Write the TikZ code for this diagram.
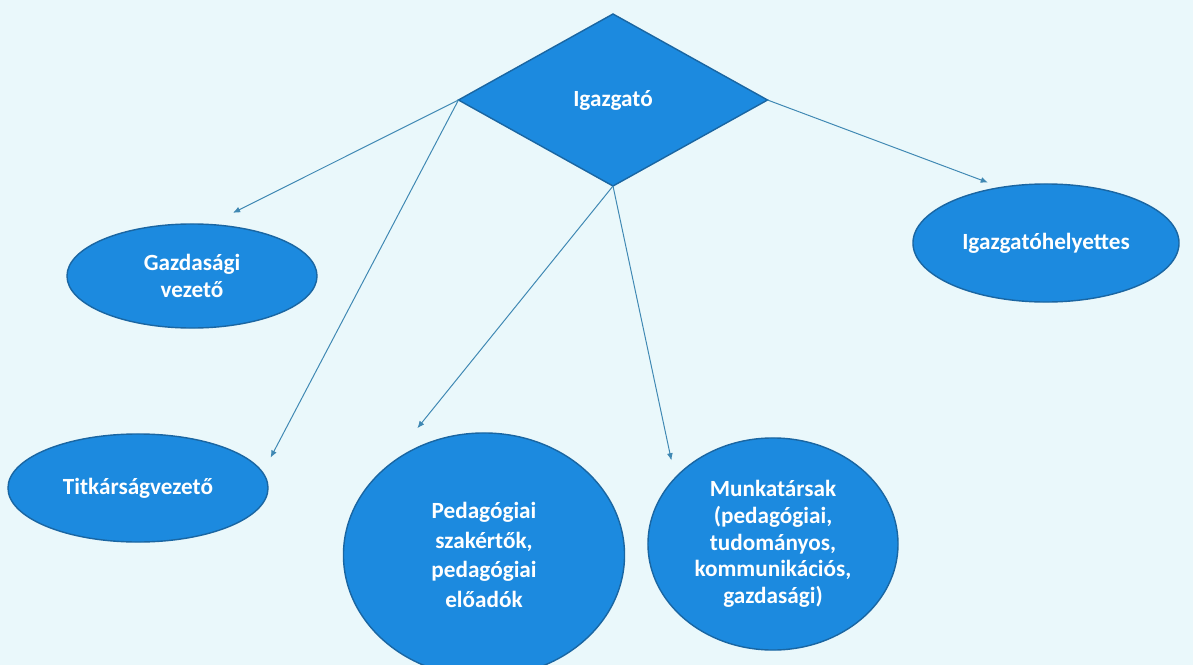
\documentclass[tikz,border=0pt]{standalone}
\usepackage{fontspec}
\setmainfont{Carlito}
\usetikzlibrary{arrows.meta}
\usetikzlibrary{shapes.geometric}
\definecolor{bgcyan}{HTML}{EAF8FB}
\definecolor{boxblue}{HTML}{1C8ADF}
\definecolor{edgeblue}{HTML}{1A66A2}
\definecolor{linkblue}{HTML}{3F88B3}

\begin{document}
\begin{tikzpicture}
	[x=0.025cm, y=-0.025cm,
	unit/.style={ellipse, fill=boxblue, draw=edgeblue, line width=1pt, inner sep=0pt, outer sep=0pt, text=white, align=center, font=\fontsize{16.5}{19}\selectfont\bfseries},
	link/.style={linkblue, line width=0.7pt, -{Latex[length=1.8mm,width=1.5mm]}}];

	%Canvas
	\clip (0,0) rectangle (1193,665);
	\fill[bgcyan] (0,0) rectangle (1193,665);

	%Head
	\node[unit, diamond, minimum width=7.725cm, minimum height=4.3cm] (igaz) at (613,100) {Igazgató};

	%Units
	\node[unit, minimum width=6.25cm, minimum height=2.6cm] (gazd) at (192,276) {Gazdasági\\vezető};
	\node[unit, minimum width=6.5cm, minimum height=2.7cm] (titk) at (138,488) {Titkárságvezető};
	\node[unit, minimum width=7.025cm, minimum height=6.1cm, font=\fontsize{16.5}{21}\selectfont\bfseries] (peda) at (484,555) {Pedagógiai\\szakértők,\\pedagógiai\\előadók};
	\node[unit, minimum width=6.25cm, minimum height=5.3cm] (munk) at (773,544) {Munkatársak\\(pedagógiai,\\tudományos,\\kommunikációs,\\gazdasági)};
	\node[unit, minimum width=6.65cm, minimum height=2.95cm] (helyt) at (1046,243) {Igazgatóhelyettes};

	%Links
	\draw[link, shorten >=0.65cm] (igaz.west) -- (gazd.71);
	\draw[link, shorten >=0.425cm] (igaz.west) -- (titk.7);
	\draw[link, shorten >=1.3cm] (igaz.south) -- (peda.139);
	\draw[link, shorten >=0.45cm] (igaz.south) -- (munk.146);
	\draw[link, shorten >=0.35cm] (igaz.east) -- (helyt.129);
\end{tikzpicture}
\end{document}
